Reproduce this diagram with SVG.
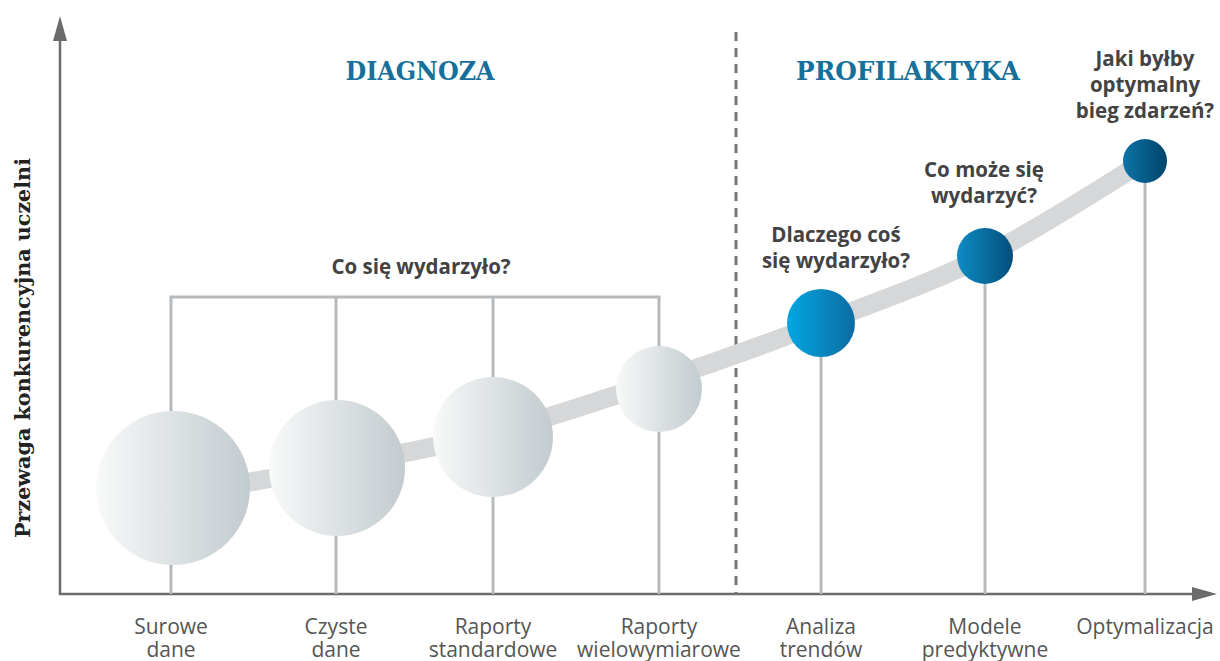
<svg xmlns="http://www.w3.org/2000/svg" width="1220" height="661" viewBox="0 0 1220 661">
<defs>
<style>
.axis{stroke:#6b6b6b;stroke-width:2.5;fill:none}
.stem{stroke:#b6babd;stroke-width:3;fill:none}
.head{font-family:"DejaVu Serif","Liberation Serif",serif;font-weight:bold;fill:#17709a}
.q{font-family:"Open Sans","Noto Sans",sans-serif;font-weight:bold;font-size:20.5px;fill:#434343;text-anchor:middle}
.lbl{font-family:"Open Sans","Noto Sans",sans-serif;font-size:21px;fill:#555;text-anchor:middle}
</style>
<linearGradient id="gGray" x1="0" y1="0" x2="1" y2="0">
<stop offset="0" stop-color="#f8f9f9"/><stop offset="1" stop-color="#c2cbcf"/>
</linearGradient>
<linearGradient id="gB1" x1="0" y1="0" x2="1" y2="0">
<stop offset="0" stop-color="#03a7e2"/><stop offset="1" stop-color="#0c6ba2"/>
</linearGradient>
<linearGradient id="gB2" x1="0" y1="0" x2="1" y2="0">
<stop offset="0" stop-color="#0d8cc5"/><stop offset="1" stop-color="#054e7a"/>
</linearGradient>
<linearGradient id="gB3" x1="0" y1="0" x2="1" y2="0">
<stop offset="0" stop-color="#0c73a6"/><stop offset="1" stop-color="#00456a"/>
</linearGradient>
</defs>
<rect width="1220" height="661" fill="#fff"/>

<g id="connectors">
<line class="axis" x1="60" y1="595" x2="60" y2="40"/>
<path d="M53,41 L60,16 L67,41 Z" fill="#6b6b6b"/>
<line class="axis" x1="59" y1="594" x2="1192" y2="594"/>
<path d="M1192,587 L1217,594 L1192,601 Z" fill="#6b6b6b"/>
<line x1="736" y1="32" x2="736" y2="594" stroke="#777" stroke-width="3" stroke-dasharray="9,7"/>
<path class="stem" d="M171,594 V297 H659 V594 M336,297 V594 M493,297 V594"/>
<path class="stem" d="M821,323 V594 M985,256 V594 M1145,161 V594"/>
<path d="M200,491 C222.7,486.8 287.2,475.7 336,466 C384.8,456.3 439.2,447.2 493,433 C546.8,418.8 604.3,399.3 659,381 C713.7,362.7 766.7,343.8 821,323 C875.3,302.2 931,283 985,256 C1039,229 1118.3,176.8 1145,161" fill="none" stroke="#d5d7d9" stroke-width="19" stroke-linecap="butt"/>
</g>

<g id="n1"><circle cx="173" cy="488" r="77" fill="url(#gGray)"/><text class="lbl" x="171" y="634">Surowe</text><text class="lbl" x="171" y="657">dane</text></g>
<g id="n2"><circle cx="337" cy="468" r="68" fill="url(#gGray)"/><text class="lbl" x="336" y="634">Czyste</text><text class="lbl" x="336" y="657">dane</text></g>
<g id="n3"><circle cx="493" cy="437" r="60" fill="url(#gGray)"/><text class="lbl" x="493" y="634">Raporty</text><text class="lbl" x="493" y="657">standardowe</text></g>
<g id="n4"><circle cx="659" cy="389" r="43" fill="url(#gGray)"/><text class="lbl" x="659" y="634">Raporty</text><text class="lbl" x="659" y="657">wielowymiarowe</text></g>
<g id="n5"><circle cx="821" cy="323" r="34" fill="url(#gB1)"/><text class="lbl" x="821" y="634">Analiza</text><text class="lbl" x="821" y="657">trendów</text></g>
<g id="n6"><circle cx="985" cy="256" r="28" fill="url(#gB2)"/><text class="lbl" x="985" y="634">Modele</text><text class="lbl" x="985" y="657">predyktywne</text></g>
<g id="n7"><circle cx="1145" cy="161" r="22" fill="url(#gB3)"/><text class="lbl" x="1145" y="634">Optymalizacja</text></g>

<g id="labels">
<text class="head" x="420" y="80" font-size="26" text-anchor="middle" textLength="149" lengthAdjust="spacingAndGlyphs">DIAGNOZA</text>
<text class="head" x="908" y="80" font-size="26" text-anchor="middle" textLength="224" lengthAdjust="spacingAndGlyphs">PROFILAKTYKA</text>
<text class="q" x="421" y="274">Co się wydarzyło?</text>
<text class="q" x="836" y="242">Dlaczego coś</text>
<text class="q" x="836" y="268">się wydarzyło?</text>
<text class="q" x="984" y="177">Co może się</text>
<text class="q" x="984" y="203">wydarzyć?</text>
<text class="q" x="1145" y="66">Jaki byłby</text>
<text class="q" x="1145" y="92">optymalny</text>
<text class="q" x="1145" y="118">bieg zdarzeń?</text>
<text class="head" transform="translate(30,348) rotate(-90)" font-size="21" style="fill:#222" text-anchor="middle" textLength="380" lengthAdjust="spacingAndGlyphs">Przewaga konkurencyjna uczelni</text>
</g>
</svg>
